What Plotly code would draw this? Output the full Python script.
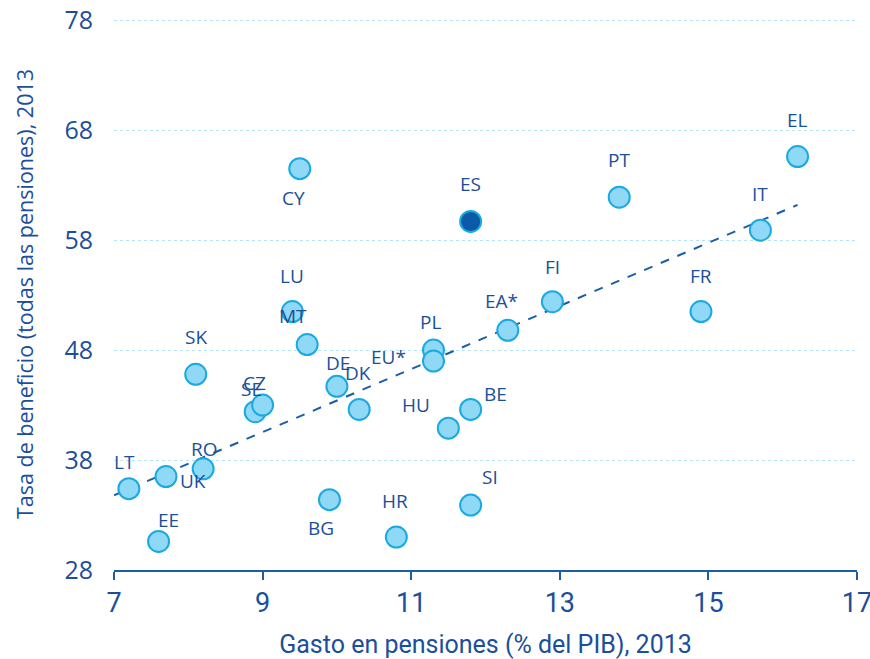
import plotly.graph_objects as go

countries = ["LT", "EE", "UK", "RO", "SK", "SE", "CZ", "CY", "LU", "MT", "BG", "DE", "DK", "HR",
             "PL", "EU*", "HU", "ES", "BE", "SI", "EA*", "FI", "PT", "FR", "IT", "EL"]
gasto = [7.2, 7.6, 7.7, 8.2, 8.1, 8.9, 9.0, 9.5, 9.4, 9.6, 9.9, 10.0, 10.3, 10.8,
         11.3, 11.3, 11.5, 11.8, 11.8, 11.8, 12.3, 12.9, 13.8, 14.9, 15.7, 16.2]
tasa = [35.4, 30.6, 36.5, 37.2, 45.8, 42.4, 43.0, 64.5, 51.5, 48.5, 34.4, 44.7, 42.6, 31.0,
        48.0, 47.0, 40.9, 59.7, 42.6, 33.9, 49.8, 52.4, 61.9, 51.5, 58.9, 65.6]

# linear trend (endpoints)
trend_x = [7.0, 16.2]
trend_y = [34.8, 61.2]

x_ticks = [7, 9, 11, 13, 15, 17]
y_ticks = [28, 38, 48, 58, 68, 78]

# label offsets in pixels (style)
label_offsets = {
    "LT": (-4, 27), "EE": (10, 21), "UK": (27, -4), "RO": (1, 20), "SK": (0, 37),
    "SE": (-4, 23), "CZ": (-8, 22), "CY": (-6, -29), "LU": (0, 36), "MT": (-14, 29),
    "BG": (-8, -28), "DE": (1, 23), "DK": (-1, 36), "HR": (-1, 36), "PL": (-3, 28),
    "EU*": (-45, 4), "HU": (-32, 23), "ES": (0, 37), "BE": (25, 15), "SI": (19, 28),
    "EA*": (-6, 29), "FI": (0, 35), "PT": (0, 37), "FR": (0, 36), "IT": (0, 36), "EL": (0, 37),
}

TEXT = "#1b4f9b"
FILL = "#8fd9f6"
EDGE = "#1aa9e1"
DARK = "#0a5aa8"

fig = go.Figure()
fig.add_trace(go.Scatter(
    x=trend_x, y=trend_y, mode="lines",
    line=dict(color="#1a5ea8", width=2, dash="dash"),
    hoverinfo="skip", showlegend=False,
))
fills = [DARK if c == "ES" else FILL for c in countries]
fig.add_trace(go.Scatter(
    x=gasto, y=tasa, mode="markers",
    marker=dict(size=21, color=fills, line=dict(color=EDGE, width=2), opacity=1),
    text=countries, showlegend=False,
))

for c, xv, yv in zip(countries, gasto, tasa):
    dx, dy = label_offsets[c]
    fig.add_annotation(x=xv, y=yv, text=c, showarrow=False, xshift=dx, yshift=dy,
                       font=dict(family="Open Sans", size=19, color=TEXT))

fig.update_layout(
    width=870, height=659,
    margin=dict(l=114, r=13, t=18, b=89),
    plot_bgcolor="white", paper_bgcolor="white",
    font=dict(family="Open Sans", color=TEXT),
    xaxis=dict(
        range=[7, 17], tickvals=x_ticks, ticktext=[str(v) for v in x_ticks],
        automargin=False, ticklabeloverflow="allow",
        showgrid=False, zeroline=False,
        showline=True, linecolor="#1a5ea8", linewidth=2,
        ticks="outside", ticklen=8, tickcolor="#1a5ea8", tickwidth=2,
        tickfont=dict(family="Roboto", size=27, color=TEXT),
        title=dict(text="Gasto en pensiones (% del PIB), 2013",
                   font=dict(family="Roboto", size=25, color=TEXT),
                   standoff=21),
    ),
    yaxis=dict(
        range=[28, 78.2], tickvals=y_ticks, ticktext=[str(v) for v in y_ticks],
        automargin=False, ticklabeloverflow="allow",
        showgrid=True, gridcolor="#b8e3f5", griddash="dot", gridwidth=1,
        zeroline=False, showline=False, ticks="",
        tickfont=dict(family="Open Sans", size=25, color=TEXT),
        ticklabelstandoff=20,
        title=dict(text="Tasa de beneficio (todas las pensiones), 2013",
                   font=dict(family="Open Sans", size=21.5, color=TEXT), standoff=24),
    ),
)

fig.write_html(
    "out.html",
    config={"displayModeBar": False},
    post_script="document.body.style.margin='0';document.body.style.overflow='hidden';",
)
